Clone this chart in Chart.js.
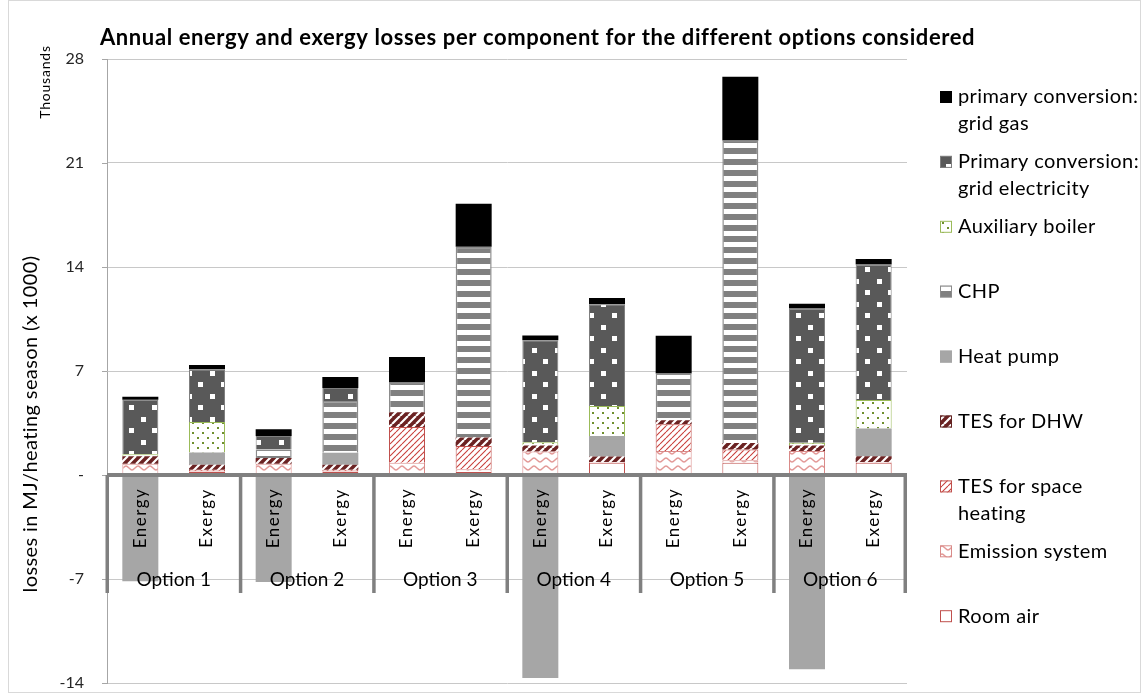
<!DOCTYPE html>
<html><head><meta charset="utf-8">
<script src="https://cdn.jsdelivr.net/npm/chart.js@4.4.1/dist/chart.umd.min.js"></script>
<style>
html,body{margin:0;padding:0;background:#fff;}
#wrap{position:absolute;left:0;top:0;width:1144px;height:693px;}
#frame{position:absolute;left:8px;top:0px;width:1131px;height:691px;border:1px solid #d9d9d9;pointer-events:none;}
canvas{position:absolute;left:0;top:0;}
</style></head><body>
<div id="wrap"><canvas id="c" width="1144" height="693"></canvas><div id="frame"></div></div>
<script>
// ---- data (values in thousands of MJ per heating season) ----
const categories = ['Energy','Exergy','Energy','Exergy','Energy','Exergy','Energy','Exergy','Energy','Exergy','Energy','Exergy'];
const optionLabels = ['Option 1','Option 2','Option 3','Option 4','Option 5','Option 6'];
const yTickValues = [28, 21, 14, 7, 0, -7, -14];

const roomAir   = [0,    0.20, 0,    0.20, 0,    0.20,  0,      0.83, 0,    0.83,  0,      0.83];
const emission  = [0.76, 0.05, 0.76, 0.05, 0.83, 0.18,  1.59,   0.04, 1.61, 0.16,  1.61,   0.05];
const tesSpace  = [0,    0.10, 0,    0.10, 2.40, 1.57,  0,      0,    1.80, 0.72,  0,      0];
const tesDHW    = [0.51, 0.34, 0.38, 0.34, 0.99, 0.57,  0.40,   0.38, 0.27, 0.45,  0.38,   0.38];
const heatPump  = [-7.15,0.83, -7.20,0.81, 0,    0,     -13.67, 1.37, 0,    0,     -13.08, 1.87];
const chp       = [0,    0,    0.57, 3.48, 2.00, 12.85, 0,      0,    3.15, 20.36, 0,      0];
const auxBoiler = [0.13, 2.04, 0,    0,    0,    0,     0.22,   2.02, 0,    0,     0.18,   1.91];
const gridElec  = [3.67, 3.55, 0.92, 0.88, 0,    0,     6.86,   6.86, 0,    0,     9.04,   9.12];
const gridGas   = [0.20, 0.29, 0.45, 0.74, 1.73, 2.88,  0.32,   0.42, 2.54, 4.28,  0.31,   0.38];

const seriesNames = ['Room air','Emission system','TES for space heating','TES for DHW','Heat pump','CHP','Auxiliary boiler','Primary conversion: grid electricity','primary conversion: grid gas'];
const legendLines = [['primary conversion:','grid gas'],['Primary conversion:','grid electricity'],['Auxiliary boiler'],['CHP'],['Heat pump'],['TES for DHW'],['TES for space','heating'],['Emission system'],['Room air']];

const titleText = 'Annual energy and exergy losses per component for the different options considered';
const yTitleText = 'losses in MJ/heating season (x 1000)';
const FONT = 'Lato, "Open Sans", sans-serif';

// ---- patterns ----
function tile(w,h,draw){const c=document.createElement('canvas');c.width=w;c.height=h;const g=c.getContext('2d');draw(g,w,h);return g.createPattern(c,'repeat');}
const patElec = tile(23,23,(g,w,h)=>{g.fillStyle='#595959';g.fillRect(0,0,w,h);g.fillStyle='#fff';g.fillRect(3,3,5,5);g.fillRect(14,14,5,5);});
const patCHP = tile(4,11,(g,w,h)=>{g.fillStyle='#808080';g.fillRect(0,0,w,h);g.fillStyle='#fff';g.fillRect(0,0,w,5);});
const patAux = tile(10,10,(g,w,h)=>{g.fillStyle='#fff';g.fillRect(0,0,w,h);g.fillStyle='#6f8f2e';g.fillRect(2,2,2,2);g.fillRect(7,7,2,2);});
function diag(g,s,color,lw){g.strokeStyle=color;g.lineWidth=lw;g.beginPath();for(const k of [-s,0,s]){g.moveTo(k,s);g.lineTo(k+s,0);}g.stroke();}
const patDHW = tile(8,8,(g,w,h)=>{g.fillStyle='#6b2222';g.fillRect(0,0,w,h);diag(g,8,'#fff',2.2);});
const patSH = tile(6,6,(g,w,h)=>{g.fillStyle='#fff';g.fillRect(0,0,w,h);diag(g,6,'#c9403c',1.1);});
const patEm = tile(12,8,(g,w,h)=>{g.fillStyle='#fff';g.fillRect(0,0,w,h);g.strokeStyle='#e39a98';g.lineWidth=1.4;g.beginPath();g.moveTo(0,6);g.bezierCurveTo(2,6,4,2,6,2);g.bezierCurveTo(8,2,10,6,12,6);g.stroke();});

const styles = [
  {bg:'#ffffff', bc:'#c0504d', bw:1},
  {bg:patEm,     bc:'#d98b89', bw:1},
  {bg:patSH,     bc:'#c0504d', bw:1},
  {bg:patDHW,    bc:'#632523', bw:0},
  {bg:'#a6a6a6', bc:'#a6a6a6', bw:0},
  {bg:patCHP,    bc:'#8c8c8c', bw:1.5},
  {bg:patAux,    bc:'#9bbb59', bw:1},
  {bg:patElec,   bc:'#7f7f7f', bw:1},
  {bg:'#000000', bc:'#000000', bw:0}
];
const seriesData = [roomAir, emission, tesSpace, tesDHW, heatPump, chp, auxBoiler, gridElec, gridGas];

const datasets = seriesData.map((d,i)=>({
  label: seriesNames[i], data: d,
  backgroundColor: styles[i].bg, borderColor: styles[i].bc, borderWidth: styles[i].bw,
  barPercentage: 0.54, categoryPercentage: 1.0
}));

function setLS(ctx,v){try{ctx.letterSpacing=v;}catch(e){}}

const overlay = {
  id:'overlay',
  beforeDatasetsDraw(chart){
    // short tick marks left of the value axis
    const ctx=chart.ctx, ys=chart.scales.y, ca=chart.chartArea;
    ctx.save(); ctx.strokeStyle='#a6a6a6'; ctx.lineWidth=1;
    ctx.beginPath();
    yTickValues.forEach(v=>{const y=Math.round(ys.getPixelForValue(v))+0.5; ctx.moveTo(ca.left-5,y); ctx.lineTo(ca.left,y);});
    ctx.stroke(); ctx.restore();
  },
  afterDatasetsDraw(chart){
    const ctx=chart.ctx, xs=chart.scales.x, ys=chart.scales.y, ca=chart.chartArea;
    const y0=ys.getPixelForValue(0);
    const cw=(ca.right-ca.left)/categories.length;
    ctx.save();
    ctx.fillStyle='#808080';
    ctx.fillRect(ca.left, y0-2, ca.right-ca.left, 4);
    for(let k=0;k<=optionLabels.length;k++){
      const x = (k<optionLabels.length) ? xs.getPixelForValue(2*k)-cw/2 : ca.right-2;
      ctx.fillRect(x-1.5, y0, 3.5, 118);
    }
    ctx.fillStyle='#000';
    ctx.font='17px '+FONT;
    ctx.textAlign='center'; ctx.textBaseline='middle';
    setLS(ctx,'1.5px');
    categories.forEach((c,i)=>{
      const x=xs.getPixelForValue(i);
      ctx.save(); ctx.translate(x, y0+43); ctx.rotate(-Math.PI/2); ctx.fillText(c,0,0); ctx.restore();
    });
    setLS(ctx,'0px');
    ctx.font='19px '+FONT;
    optionLabels.forEach((o,k)=>{
      const x=(xs.getPixelForValue(2*k)+xs.getPixelForValue(2*k+1))/2;
      ctx.fillText(o, x, y0+105);
    });
    ctx.restore();
  },
  afterDraw(chart){
    const ctx=chart.ctx;
    ctx.save();
    ctx.fillStyle='#000';
    ctx.textBaseline='middle';
    ctx.font='bold 22px '+FONT;
    ctx.textAlign='left';
    setLS(ctx,'0.6px');
    ctx.fillText(titleText, 100, 38);
    // y titles
    ctx.textAlign='center';
    ctx.font='20px '+FONT;
    setLS(ctx,'0.4px');
    ctx.save(); ctx.translate(31, 424); ctx.rotate(-Math.PI/2); ctx.fillText(yTitleText,0,0); ctx.restore();
    ctx.font='14px '+FONT;
    setLS(ctx,'0.8px');
    ctx.save(); ctx.translate(45, 82); ctx.rotate(-Math.PI/2); ctx.fillText('Thousands',0,0); ctx.restore();
    // legend
    ctx.textAlign='left';
    ctx.font='20px '+FONT;
    setLS(ctx,'0.4px');
    const n=legendLines.length;
    for(let j=0;j<n;j++){
      const si=n-1-j; // reverse of stacking order
      const yc=97+j*64.9;
      const st=styles[si];
      ctx.fillStyle=st.bg; ctx.fillRect(940, yc-6, 12, 12);
      ctx.strokeStyle=(si===8)?'#000':(si===4?'#a6a6a6':st.bc); ctx.lineWidth=1; ctx.strokeRect(940.5, yc-5.5, 11, 11);
      ctx.fillStyle='#000';
      legendLines[j].forEach((t,li)=>ctx.fillText(t, 958, yc+li*27));
    }
    ctx.restore();
  }
};

new Chart(document.getElementById('c'), {
  type:'bar',
  data:{labels:categories, datasets},
  options:{
    responsive:false, animation:false,
    layout:{padding:{left:0, top:59, right:237, bottom:10}},
    plugins:{legend:{display:false}, title:{display:false}, tooltip:{enabled:false}},
    scales:{
      x:{stacked:true, display:false},
      y:{stacked:true, min:-14, max:28,
         afterFit(s){s.width=107;},
         afterBuildTicks(s){s.ticks=yTickValues.map(v=>({value:v}));},
         ticks:{padding:0, font:{family:FONT, size:16}, color:'#262626', callback:v=>v===0?'-':String(v)},
         grid:{color:'#c8c8c8', lineWidth:1, drawTicks:true, tickLength:23, tickColor:'rgba(0,0,0,0)'},
         border:{display:true, color:'#a6a6a6', width:1}
      }
    }
  },
  plugins:[overlay]
});
</script>
</body></html>
